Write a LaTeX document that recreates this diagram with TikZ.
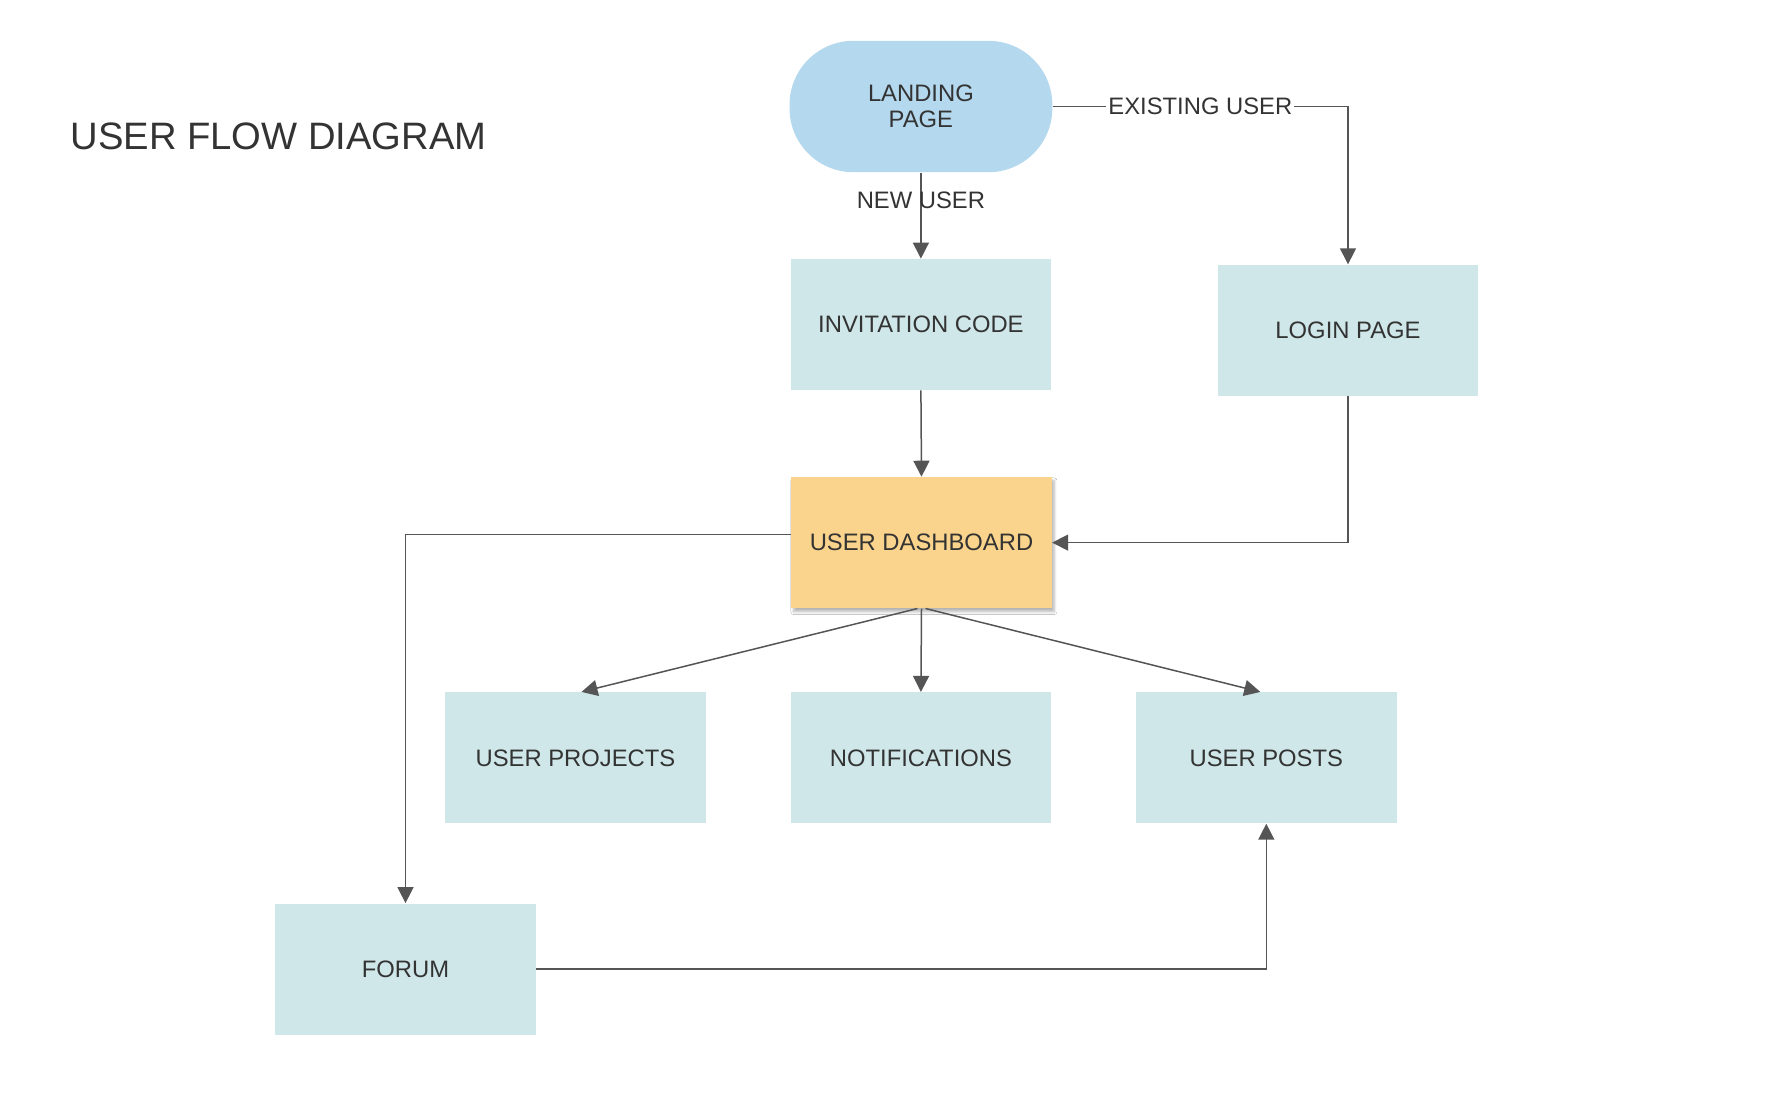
\documentclass[tikz,border=0pt]{standalone}
\usepackage{fontspec}
\setmainfont{Liberation Sans}
\usetikzlibrary{arrows.meta,shadows.blur}
\definecolor{txt}{HTML}{333333}
\definecolor{ln}{HTML}{555555}
\definecolor{boxc}{HTML}{CFE7E9}
\definecolor{landc}{HTML}{B4D8EE}
\definecolor{dashc}{HTML}{FAD48C}
\begin{document}
\begin{tikzpicture}[x=0.5pt,y=-0.5pt,
  box/.style={fill=boxc, minimum width=130.25pt, minimum height=65.5pt, inner sep=0pt, text=txt, font=\fontsize{11.9}{14}\selectfont},
  landbox/.style={box, fill=landc, minimum width=131.4pt, minimum height=65.7pt, rounded corners=32pt, align=center, font=\fontsize{11.9}{13}\selectfont},
  dashbox/.style={box, fill=dashc, blur shadow={shadow xshift=1.2pt, shadow yshift=-1.8pt, shadow blur radius=1.4pt, shadow blur steps=6, shadow opacity=30}},
  conn/.style={draw=ln, line width=0.75pt, -{Triangle[length=8pt,width=8pt]}},
  lbl/.style={text=txt, font=\fontsize{11.9}{14}\selectfont, inner sep=0pt}]
\fill[white] (0,0) rectangle (1776,1094);
\useasboundingbox (0,0) rectangle (1776,1094);

\node[anchor=base west, text=txt, font=\fontsize{19.1}{22}\selectfont, inner sep=0pt] (title) at (70.2,149.5) {USER FLOW DIAGRAM};

\node[landbox] (land) at (920.9,106.5) {LANDING\\PAGE};
\node[box] (inv) at (920.9,324.5) {INVITATION CODE};
\node[box] (login) at (1348,330.2) {LOGIN PAGE};
\node[dashbox] (dash) at (921.5,542.6) {USER DASHBOARD};
\node[box] (proj) at (575.5,757.8) {USER PROJECTS};
\node[box] (notif) at (920.9,757.8) {NOTIFICATIONS};
\node[box] (posts) at (1266.3,757.8) {USER POSTS};
\node[box] (forum) at (405.5,969) {FORUM};

\draw[conn] (land.south) -- node[lbl, pos=0.325] {NEW USER} (inv.north);
\draw[conn] (land.east) -| node[lbl, pos=0.25, fill=white, inner xsep=1pt, inner ysep=1pt] {EXISTING USER} (login.north);
\draw[conn] (inv.south) -- (dash.north);
\draw[conn] (login.south) |- (dash.east);
\draw[conn] ([yshift=4pt]dash.west) -| (forum.north);
\draw[conn] ([xshift=-2pt]dash.south) -- ([xshift=3pt]proj.north);
\draw[conn] (dash.south) -- (notif.north);
\draw[conn] ([xshift=2pt]dash.south) -- ([xshift=-3pt]posts.north);
\draw[conn] (forum.east) -| (posts.south);
\end{tikzpicture}
\end{document}
